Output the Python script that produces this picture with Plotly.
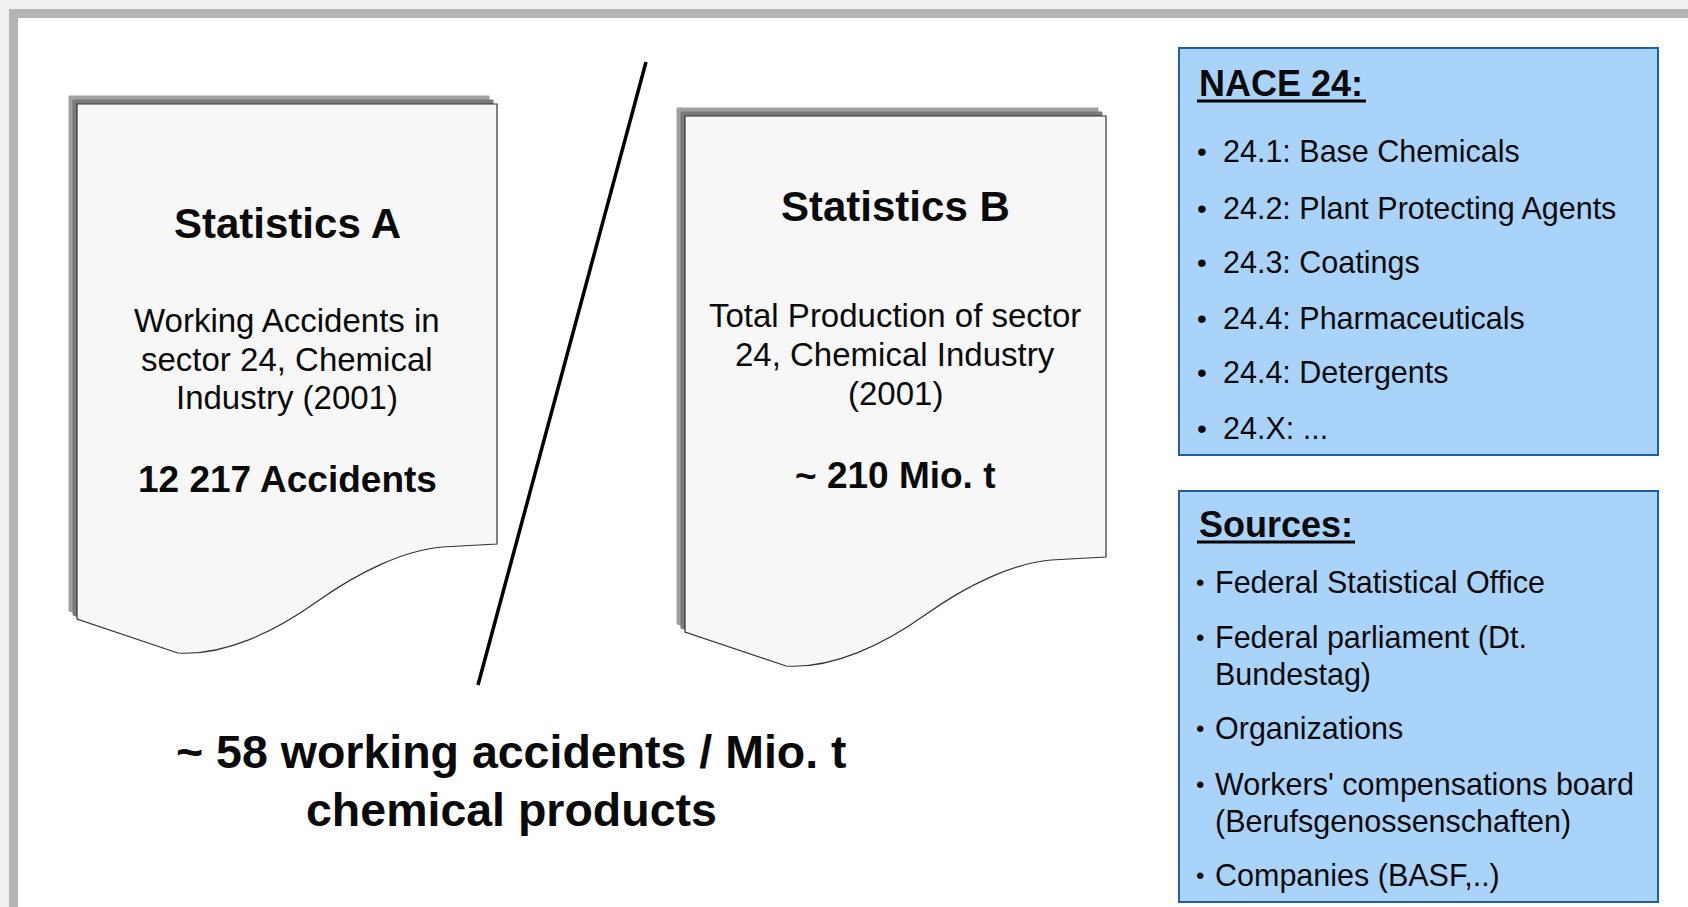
import plotly.graph_objects as go

# ---- content ----
stat_titles = ["Statistics A", "Statistics B"]
stat_desc = [
    ["Working Accidents in", "sector 24, Chemical", "Industry (2001)"],
    ["Total Production of sector", "24, Chemical Industry", "(2001)"],
]
stat_values = ["12 217 Accidents", "~ 210 Mio. t"]
result_lines = ["~ 58 working accidents / Mio. t", "chemical products"]
nace_title = "NACE 24:"
nace_items = [
    "24.1: Base Chemicals",
    "24.2: Plant Protecting Agents",
    "24.3: Coatings",
    "24.4: Pharmaceuticals",
    "24.4: Detergents",
    "24.X: ...",
]
sources_title = "Sources:"
source_items = [
    ["Federal Statistical Office"],
    ["Federal parliament (Dt.", "Bundestag)"],
    ["Organizations"],
    ["Workers' compensations board", "(Berufsgenossenschaften)"],
    ["Companies (BASF,..)"],
]

W, H = 1688, 907
FONT = "Liberation Sans"
TXT = "#0a0a0a"

fig = go.Figure()
shapes = []
ann = []

# frame
shapes.append(dict(type="rect", x0=0, x1=W, y0=0, y1=9, fillcolor="#f0f0f0", line_width=0, layer="below"))
shapes.append(dict(type="rect", x0=0, x1=9, y0=0, y1=H, fillcolor="#f0f0f0", line_width=0, layer="below"))
shapes.append(dict(type="rect", x0=9, x1=W, y0=9, y1=18, fillcolor="#b3b3b3", line_width=0, layer="below"))
shapes.append(dict(type="rect", x0=9, x1=18, y0=9, y1=H, fillcolor="#b3b3b3", line_width=0, layer="below"))


def doc_path(l, t, r, rb, dx=0, dy=0):
    w = r - l
    pts = dict(
        p1=(r, rb), p2=(r - 0.13 * w, rb + 3),
        c1=(r - 0.22 * w, rb + 6), c2=(r - 0.33 * w, rb + 28), m=(r - 0.43 * w, rb + 58),
        c3=(r - 0.53 * w, rb + 88), c4=(r - 0.65 * w, rb + 112), e=(r - 0.76 * w, rb + 109),
        bl=(l, rb + 75),
    )
    def f(p):
        return f"{p[0] + dx:.1f},{p[1] + dy:.1f}"
    return (f"M {l + dx},{t + dy} L {r + dx},{t + dy} L {f(pts['p1'])} L {f(pts['p2'])} "
            f"C {f(pts['c1'])} {f(pts['c2'])} {f(pts['m'])} "
            f"C {f(pts['c3'])} {f(pts['c4'])} {f(pts['e'])} L {f(pts['bl'])} Z")


docs = [(77, 104, 497, 544), (685, 116, 1106, 557)]
for (l, t, r, rb) in docs:
    shapes.append(dict(type="path", path=doc_path(l, t, r, rb, -8, -8), fillcolor="#a0a0a0",
                       line=dict(color="#a0a0a0", width=1)))
    shapes.append(dict(type="path", path=doc_path(l, t, r, rb, -4, -4), fillcolor="#7a7a7a",
                       line=dict(color="#7a7a7a", width=1)))
    shapes.append(dict(type="path", path=doc_path(l, t, r, rb), fillcolor="#f7f7f7",
                       line=dict(color="#333333", width=1.2)))

# slash
shapes.append(dict(type="line", x0=646, y0=62, x1=478, y1=685, line=dict(color="#000000", width=3.5)))

# blue boxes
shapes.append(dict(type="rect", x0=1179, x1=1658, y0=48, y1=455, fillcolor="#aad3fa",
                   line=dict(color="#1f5ea8", width=2)))
shapes.append(dict(type="rect", x0=1179, x1=1658, y0=491, y1=902, fillcolor="#aad3fa",
                   line=dict(color="#1f5ea8", width=2)))


def text(x, y, s, size, bold=False, anchor="center", color=TXT):
    ann.append(dict(x=x, y=y, xref="x", yref="y", text=(f"<b>{s}</b>" if bold else s),
                    showarrow=False, xanchor=anchor, yanchor="middle",
                    font=dict(family=FONT, size=size, color=color)))


# statistics documents
cx = [287, 895]
title_y = [223, 206]
desc_y = [[320, 359, 397], [315, 354, 393]]
val_y = [479, 475]
for i in range(2):
    text(cx[i], title_y[i], stat_titles[i], 42, bold=True)
    for j, line in enumerate(stat_desc[i]):
        text(cx[i], desc_y[i][j], line, 33)
    text(cx[i], val_y[i], stat_values[i], 37, bold=True)

# result
for j, line in enumerate(result_lines):
    text(511, [752, 810][j], line, 46.5, bold=True)

# NACE box
text(1197, 83, nace_title, 36, bold=True, anchor="left")
shapes.append(dict(type="line", x0=1197, x1=1366, y0=101, y1=101, line=dict(color="#000", width=3)))
nace_y = [151, 208, 262, 318, 372, 428]
for j, item in enumerate(nace_items):
    text(1202, nace_y[j], "•", 28, anchor="center")
    text(1221, nace_y[j], item, 30.5, anchor="left")

# Sources box
text(1197, 524, sources_title, 36, bold=True, anchor="left")
shapes.append(dict(type="line", x0=1197, x1=1355, y0=542, y1=542, line=dict(color="#000", width=3)))
src_y = [[582], [637, 674], [728], [784, 821], [875]]
for j, lines in enumerate(source_items):
    text(1200, src_y[j][0], "•", 24, anchor="center")
    for k, line in enumerate(lines):
        text(1213, src_y[j][k], line, 30.5, anchor="left")

fig.update_layout(
    width=W, height=H,
    margin=dict(l=0, r=0, t=0, b=0),
    paper_bgcolor="white", plot_bgcolor="white",
    xaxis=dict(range=[0, W], visible=False, fixedrange=True),
    yaxis=dict(range=[H, 0], visible=False, fixedrange=True),
    shapes=shapes, annotations=ann, showlegend=False,
)
fig.write_html("out.html", config={"displayModeBar": False},
               post_script="document.body.style.margin='0';document.body.style.overflow='hidden';")
